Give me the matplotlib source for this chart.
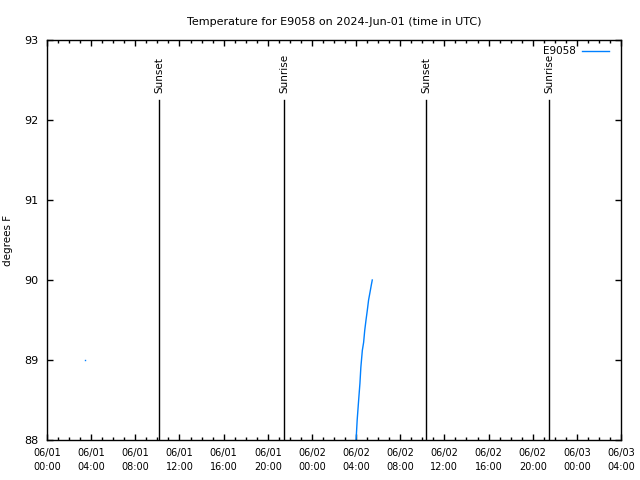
import matplotlib
matplotlib.use('Agg')
import matplotlib.pyplot as plt
import matplotlib.dates as mdates
import pandas as pd

# ==================== data ====================
temp_times = ['2024-06-02 04:00', '2024-06-02 04:06', '2024-06-02 04:14', '2024-06-02 04:21',
              '2024-06-02 04:26', '2024-06-02 04:34', '2024-06-02 04:41', '2024-06-02 04:47',
              '2024-06-02 04:54', '2024-06-02 05:01', '2024-06-02 05:08', '2024-06-02 05:16',
              '2024-06-02 05:23', '2024-06-02 05:28']
temp_values = [88.0, 88.25, 88.5, 88.71, 88.91, 89.12, 89.22, 89.37,
               89.5, 89.62, 89.75, 89.85, 89.94, 90.0]

lone_time = ['2024-06-01 03:26']
lone_value = [89.0]

sun_times = ['2024-06-01 10:09', '2024-06-01 21:28', '2024-06-02 10:20', '2024-06-02 21:28']
sun_labels = ['Sunset', 'Sunrise', 'Sunset', 'Sunrise']
sun_top = 92.25

x_start, x_end = '2024-06-01 00:00', '2024-06-03 04:00'
y_min, y_max = 88, 93

blue = '#0080ff'
plt.rcParams['font.family'] = ['DejaVu Sans']

# ==================== plot ====================
fig = plt.figure(figsize=(6.4, 4.8), dpi=100, facecolor='white')
ax = fig.add_axes([47/640, 40/480, 574/640, 400/480])

t = pd.to_datetime(temp_times)
ax.plot(t, temp_values, color=blue, linewidth=1, label='E9058')
ax.plot(pd.to_datetime(lone_time), lone_value, 's', color=blue, markersize=1, markeredgewidth=0)

for st, lab in zip(pd.to_datetime(sun_times), sun_labels):
    ax.plot([st, st], [y_min, sun_top], color='black', linewidth=1)
    ax.text(st, sun_top + 0.09, lab, rotation=90, ha='center', va='bottom', fontsize=7.5)

ax.set_xlim(pd.Timestamp(x_start), pd.Timestamp(x_end))
ax.set_ylim(y_min, y_max)

ax.xaxis.set_major_locator(mdates.HourLocator(byhour=range(0, 24, 4)))
ax.xaxis.set_minor_locator(mdates.HourLocator())
ax.xaxis.set_major_formatter(mdates.DateFormatter('%m/%d\n%H:%M'))
ax.set_yticks(range(y_min, y_max + 1))

ax.tick_params(which='both', direction='in', top=True, right=True, labelsize=7, width=1)
ax.tick_params(which='major', length=4, pad=6)
ax.tick_params(axis='y', labelsize=8)
ax.tick_params(which='minor', length=2)
for lbl in ax.get_xticklabels():
    lbl.set_linespacing(1.5)
for s in ax.spines.values():
    s.set_linewidth(1)

ax.set_ylabel('degrees F', fontsize=7.5, labelpad=8)
ax.set_title('Temperature for E9058 on 2024-Jun-01 (time in UTC)', fontsize=8, pad=11)

ax.legend(loc='upper right', frameon=False, markerfirst=False, fontsize=7.5,
          handlelength=2.6, borderaxespad=0.2, handletextpad=0.6,
          bbox_to_anchor=(0.99, 1.0))

plt.savefig('out.png', dpi=100, facecolor='white')
